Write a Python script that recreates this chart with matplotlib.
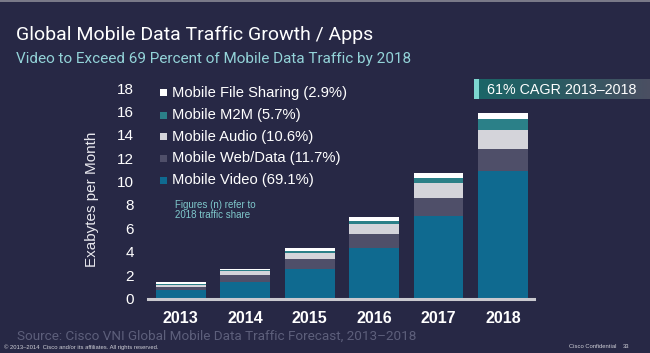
import matplotlib
matplotlib.use("Agg")
import matplotlib.pyplot as plt
import numpy as np
from matplotlib.patches import Rectangle
from matplotlib.colors import LinearSegmentedColormap

years = ["2013", "2014", "2015", "2016", "2017", "2018"]
series_names = ["Mobile Video", "Mobile Web/Data", "Mobile Audio", "Mobile M2M", "Mobile File Sharing"]
shares_2018 = ["69.1%", "11.7%", "10.6%", "5.7%", "2.9%"]
mobile_video = [0.70, 1.39, 2.50, 4.29, 7.03, 10.88]
mobile_web = [0.32, 0.62, 0.88, 1.23, 1.59, 1.88]
mobile_audio = [0.14, 0.30, 0.54, 0.85, 1.23, 1.65]
mobile_m2m = [0.09, 0.10, 0.14, 0.29, 0.48, 0.92]
mobile_file = [0.16, 0.11, 0.23, 0.29, 0.41, 0.51]
yticks = [0, 2, 4, 6, 8, 10, 12, 14, 16, 18]

colors = ["#0f6a90", "#4f4f69", "#d4d4da", "#2b8088", "#ffffff"]
BG = "#272845"
FONT = "Liberation Sans"
TFONT = "Roboto"

W, H = 650, 353
fig = plt.figure(figsize=(W / 100, H / 100), dpi=100, facecolor=BG)

def fx(px):
    return px / W

def fy(py):
    return 1 - py / H

# axes geometry in pixels
x0, x1 = 148, 534
y_zero, px_per_unit = 298.5, 11.69
ymax = 18.6
y_top = y_zero - ymax * px_per_unit
ax = fig.add_axes([fx(x0), fy(y_zero), fx(x1 - x0), (y_zero - y_top) / H])
ax.set_facecolor(BG)
ax.set_xlim(-0.51, 5.48)
ax.set_ylim(0, ymax)

x = np.arange(len(years))
data = [mobile_video, mobile_web, mobile_audio, mobile_m2m, mobile_file]
bottom = np.zeros(len(years))
for vals, c, name in zip(data, colors, series_names):
    ax.bar(x, vals, width=0.77, bottom=bottom, color=c, edgecolor="none", label=name, zorder=2)
    bottom += np.array(vals)

for s in ["top", "right", "left"]:
    ax.spines[s].set_visible(False)
ax.spines["bottom"].set_color("#c9c9cf")
ax.spines["bottom"].set_linewidth(2.2)
ax.spines["bottom"].set_zorder(3)

ax.set_yticks(yticks)
ax.set_yticklabels([str(v) for v in yticks], fontfamily=FONT, fontsize=11, color="white")
ax.set_xticks(x)
ax.set_xticklabels(years, fontfamily=FONT, fontsize=11.5, fontweight="bold", color="white")
ax.tick_params(axis="y", length=0, pad=10)
ax.tick_params(axis="x", length=0, pad=9)
ax.set_ylabel("Exabytes per Month", fontfamily=FONT, fontsize=11, color="#e8e8ee")
ax.yaxis.set_label_coords(fx(92), fy(199.5), transform=fig.transFigure)
ax.yaxis.label.set_va("center")

# legend (manual, top to bottom in reverse stacking order)
leg_rows_y = [92.7, 115, 136.7, 158.3, 180]
order = list(range(len(series_names)))[::-1]
for ry, i in zip(leg_rows_y, order):
    fig.patches.append(Rectangle((fx(160), fy(ry + 3.5)), fx(7), 7 / H, transform=fig.transFigure,
                                 facecolor=colors[i], edgecolor="none"))
    fig.text(fx(172), fy(ry), f"{series_names[i]} ({shares_2018[i]})", fontfamily=FONT,
             fontsize=10.6, color="white", va="center", ha="left")

fig.text(fx(175), fy(200), "Figures (n) refer to\n2018 traffic share", fontfamily=FONT,
         fontsize=7, color="#7fc9cc", va="top", ha="left", linespacing=1.05)

# CAGR badge
grad = np.linspace(0, 1, 256).reshape(1, -1)
cmap = LinearSegmentedColormap.from_list("g", ["#1a6668", "#2c5a62", "#4b4f62"])
bax = fig.add_axes([fx(474), fy(99), fx(650 - 474), 20 / H])
bax.imshow(grad, aspect="auto", cmap=cmap, extent=[0, 1, 0, 1])
bax.add_patch(Rectangle((0, 0), 5 / 176, 1, facecolor="#7dd6d0", edgecolor="none"))
bax.set_xlim(0, 1)
bax.set_ylim(0, 1)
bax.axis("off")
fig.text(fx(487), fy(89.5), "61% CAGR 2013\u20132018", fontfamily=FONT, fontsize=10.3,
         color="white", va="center", ha="left")

# titles
fig.text(fx(16), fy(40.5), "Global Mobile Data Traffic Growth / Apps", fontfamily=TFONT,
         fontsize=14.0, color="white", va="baseline", ha="left")
fig.text(fx(16), fy(62.5), "Video to Exceed 69 Percent of Mobile Data Traffic by 2018", fontfamily=TFONT,
         fontsize=11.0, color="#93d3d8", va="baseline", ha="left")

# footer
fig.text(fx(17), fy(339.5), "Source: Cisco VNI Global Mobile Data Traffic Forecast, 2013\u20132018",
         fontfamily=TFONT, fontsize=9.7, color="#5d5f7b", va="baseline", ha="left")
fig.text(fx(4), fy(348.5), "\u00a9 2013\u20132014  Cisco and/or its affiliates. All rights reserved.",
         fontfamily=FONT, fontsize=4.2, color="#d0d0d8", va="baseline", ha="left")
fig.text(fx(569), fy(348.5), "Cisco Confidential", fontfamily=FONT, fontsize=4.2,
         color="#d0d0d8", va="baseline", ha="left")
fig.text(fx(623), fy(348.5), "33", fontfamily=FONT, fontsize=4.2,
         color="#d0d0d8", va="baseline", ha="left")

# top border line
fig.add_artist(plt.Line2D([0, 1], [fy(0.5), fy(0.5)], transform=fig.transFigure,
                          color="#8a8a96", linewidth=1.2))

fig.savefig("out.png", dpi=100, facecolor=BG)
